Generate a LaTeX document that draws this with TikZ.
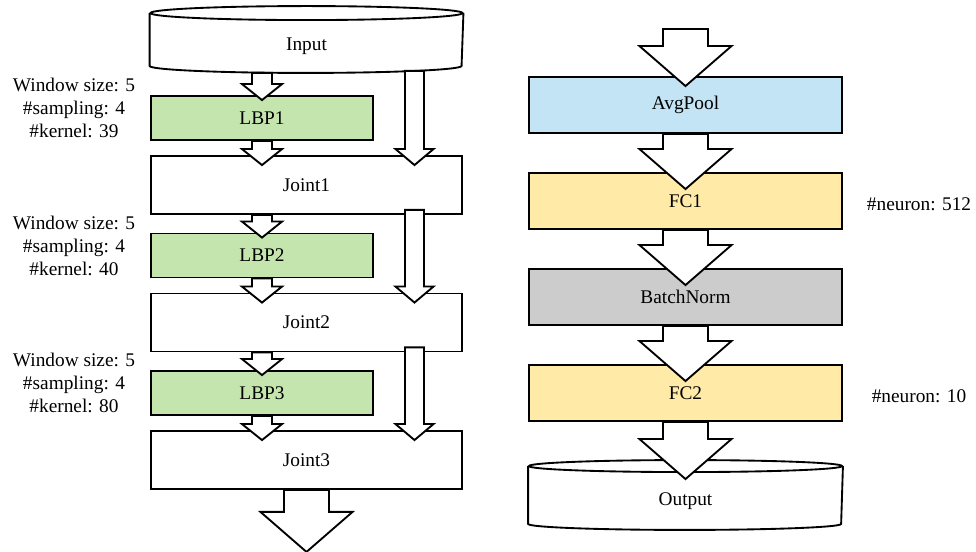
\documentclass[tikz,border=0pt]{standalone}
\usepackage{fontspec}
\setmainfont{Liberation Serif}
\usetikzlibrary{calc,positioning}

\definecolor{lbpgreen}{HTML}{C5E5AF}
\definecolor{poolblue}{HTML}{C3E4F5}
\definecolor{fcyellow}{HTML}{FFEBA7}
\definecolor{normgray}{HTML}{CCCCCC}

% block arrow: start, tip, shaft half width, head half width, head length
\newcommand{\fatarrow}[5]{%
  \draw[flow] let \p1=(#1), \p2=(#2) in
    (\x1-#3,\y1) -- (\x1-#3,\y2+#5) -- (\x1-#4,\y2+#5) -- (\x1,\y2)
    -- (\x1+#4,\y2+#5) -- (\x1+#3,\y2+#5) -- (\x1+#3,\y1) -- cycle;}
% drum round a node: node, half width, ellipse radius
\newcommand{\drum}[3]{%
  \draw[line width=1.4pt] ([yshift=#3]#1.north west) -- ([yshift=#3]#1.south west)
    arc[start angle=180,end angle=360,x radius=#2,y radius=#3] -- ([yshift=#3]#1.north east);
  \draw[line width=1.4pt] ([yshift=#3]#1.north) ellipse[x radius=#2,y radius=#3];}

\begin{document}
\begin{tikzpicture}[x=0.75pt,y=-0.75pt,
  box/.style={draw,line width=1.4pt,inner sep=0pt,font=\fontsize{14.5}{17}\selectfont},
  lbp/.style={box,fill=lbpgreen,minimum width=166.5pt,minimum height=33pt},
  joint/.style={box,fill=white,minimum width=233.25pt,minimum height=43.5pt},
  layer/.style={box,minimum width=234.75pt,minimum height=42pt},
  note/.style={align=center,font=\fontsize{14.5}{17.25}\selectfont},
  flow/.style={draw,fill=white,line width=1.4pt}]

\useasboundingbox (0,0) rectangle (976,552);

% left branch
\node[box,draw=none,minimum width=234pt,minimum height=38.25pt] (input) at (306.5,46.5) {Input};
\drum{input}{117pt}{5.25pt}
\foreach \i/\k in {1/39,2/40,3/80} {
  \node[lbp] (lbp\i) at (262,{118+137.5*(\i-1)}) {LBP\i};
  \node[joint] (joint\i) at (306.5,{185+137.5*(\i-1)}) {Joint\i};
  \node[note] (cfg\i) at (74,{108+137.5*(\i-1)}) {Window size: 5\\\#sampling: 4\\\#kernel: \k};
}
\coordinate (lane) at (414.5,0);

\fatarrow{lbp1.north |- input.south}{$(lbp1.north)+(0,5)$}{7.5pt}{15pt}{12pt}
\foreach \i in {1,2,3}
  \fatarrow{lbp\i.south}{$(lbp\i.south |- joint\i.north)+(0,10)$}{7.5pt}{15pt}{12pt};
\foreach \i/\j in {1/2,2/3}
  \fatarrow{lbp\i.south |- joint\i.south}{$(lbp\j.north)+(0,5)$}{7.5pt}{15pt}{12pt};

\fatarrow{$(lane |- input.south)+(0,-2)$}{$(lane |- joint1.north)+(0,10)$}{7.1pt}{14.25pt}{12pt}
\foreach \i/\j in {1/2,2/3}
  \fatarrow{$(lane |- joint\i.south)+(0,-5)$}{$(lane |- joint\j.north)+(0,10)$}{7.1pt}{14.25pt}{12pt};

\fatarrow{joint3.south}{$(joint3.south)+(0,62)$}{16.9pt}{34.5pt}{30pt}

% right branch
\node[layer,fill=poolblue] (pool) at (685.5,105) {AvgPool};
\node[layer,fill=fcyellow] (fc1) at (685.5,201) {FC1};
\node[layer,fill=normgray] (norm) at (685.5,297) {BatchNorm};
\node[layer,fill=fcyellow] (fc2) at (685.5,393) {FC2};
\node[box,draw=none,minimum width=234.75pt,minimum height=42pt] (output) at (685.5,501) {Output};
\drum{output}{117.4pt}{4.5pt}

\node[note] (n512) at (919,204) {\#neuron: 512};
\node[note] (n10) at (919,396) {\#neuron: 10};

\coordinate (feed) at (685.5,29);
\fatarrow{feed}{$(pool.north)+(0,10)$}{16.9pt}{34.5pt}{30pt}
\foreach \a/\b in {pool/fc1,fc1/norm,norm/fc2}
  \fatarrow{\a.south}{$(\b.north)+(0,17)$}{16.9pt}{34.5pt}{30pt};
\fatarrow{fc2.south}{$(output.north)+(0,7)$}{16.9pt}{34.5pt}{30pt}
\end{tikzpicture}
\end{document}
